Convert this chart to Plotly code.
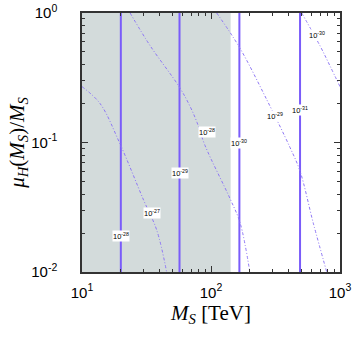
import numpy as np
import plotly.graph_objects as go

# shaded (excluded) region in M_S
shade_x = [10, 142]

# vertical solid lines and their labels
vline_x = [20, 57, 166, 490]
vline_lab = ["10<sup>-28</sup>", "10<sup>-29</sup>", "10<sup>-30</sup>", "10<sup>-31</sup>"]
vline_lab_y = [0.019, 0.058, 0.10, 0.177]

# dash-dot contours
curve_a_x = [10, 13.8, 19.5, 30, 38, 45.3]
curve_a_y = [0.27, 0.2, 0.1, 0.036, 0.021, 0.01]
curve_b_x = [23.6, 33.7, 57, 68.8, 77.9, 89.8, 142, 168, 200]
curve_b_y = [1, 0.56, 0.267, 0.19, 0.143, 0.095, 0.036, 0.024, 0.01]
curve_c_x = [110.7, 166, 270, 410, 490, 621, 789]
curve_c_y = [1, 0.544, 0.215, 0.0914, 0.06, 0.0238, 0.01]
curve_d_x = [505, 700, 837, 1000]
curve_d_y = [1, 0.558, 0.39, 0.27]

curve_lab = ["10<sup>-27</sup>", "10<sup>-28</sup>", "10<sup>-29</sup>", "10<sup>-30</sup>"]
curve_lab_x = [34.9, 93, 313, 658]
curve_lab_y = [0.0284, 0.12, 0.159, 0.675]

solid_col = "#7a5cfa"
dash_col = "#8f78f5"

fig = go.Figure()

fig.add_shape(type="rect", xref="x", yref="paper",
              x0=shade_x[0], x1=shade_x[1], y0=0, y1=1,
              fillcolor="#d3dbdb", line_width=0, layer="below")

for xv in vline_x:
    fig.add_trace(go.Scatter(x=[xv, xv], y=[0.01, 1], mode="lines",
                             line=dict(color=solid_col, width=2), showlegend=False))

for cx, cy in [(curve_a_x, curve_a_y), (curve_b_x, curve_b_y),
               (curve_c_x, curve_c_y), (curve_d_x, curve_d_y)]:
    fig.add_trace(go.Scatter(x=cx, y=cy, mode="lines", line_shape="spline",
                             line=dict(color=dash_col, width=1, dash="3px,2px,1px,2px"),
                             showlegend=False))

for xs, ys, ls in [(vline_x, vline_lab_y, vline_lab), (curve_lab_x, curve_lab_y, curve_lab)]:
    for xv, yv, t in zip(xs, ys, ls):
        fig.add_annotation(x=np.log10(xv), y=np.log10(yv), text=t, showarrow=False,
                           font=dict(size=7.5, color="black", family="Liberation Sans"),
                           bgcolor="white", borderpad=0)

minor_vals = [m * 10 ** d for d in range(-2, 3) for m in range(2, 10)]

axis_common = dict(type="log", showgrid=False, zeroline=False, automargin=False,
                   showline=True, linecolor="#333", linewidth=1.5, mirror="allticks",
                   ticks="inside", ticklen=6, tickcolor="#333", tickwidth=1,
                   minor=dict(tickvals=minor_vals, ticks="inside", ticklen=3,
                              tickcolor="#333", showgrid=False),
                   tickfont=dict(family="Liberation Sans", size=15, color="black"))

fig.update_xaxes(range=[1, 3], tickvals=[10, 100, 1000],
                 ticktext=["10<sup>1</sup>", "10<sup>2</sup>", "10<sup>3</sup>"],
                 ticklabelstandoff=6,
                 title=dict(text="<i>M</i><sub><i>S</i></sub> [TeV]", standoff=2,
                            font=dict(family="Liberation Serif", size=21, color="black")),
                 **axis_common)
fig.update_yaxes(range=[-2, 0], tickvals=[0.01, 0.1, 1],
                 ticktext=["10<sup>-2</sup>", "10<sup>-1</sup>", "10<sup>0</sup>"],
                 ticklabelstandoff=20,
                 title=dict(text="<i>μ</i><sub><i>H</i></sub>(<i>M</i><sub><i>S</i></sub>)/<i>M</i><sub><i>S</i></sub>",
                            standoff=0,
                            font=dict(family="Liberation Serif", size=21, color="black")),
                 **axis_common)

fig.update_layout(width=354, height=338, margin=dict(l=82, r=14, t=13, b=66),
                  plot_bgcolor="white", paper_bgcolor="white")

# page body has a default 8px margin; drop it so the figure sits at the corner
fig.write_html("out.html", config={"displayModeBar": False},
               post_script="document.body.style.margin='0';")
